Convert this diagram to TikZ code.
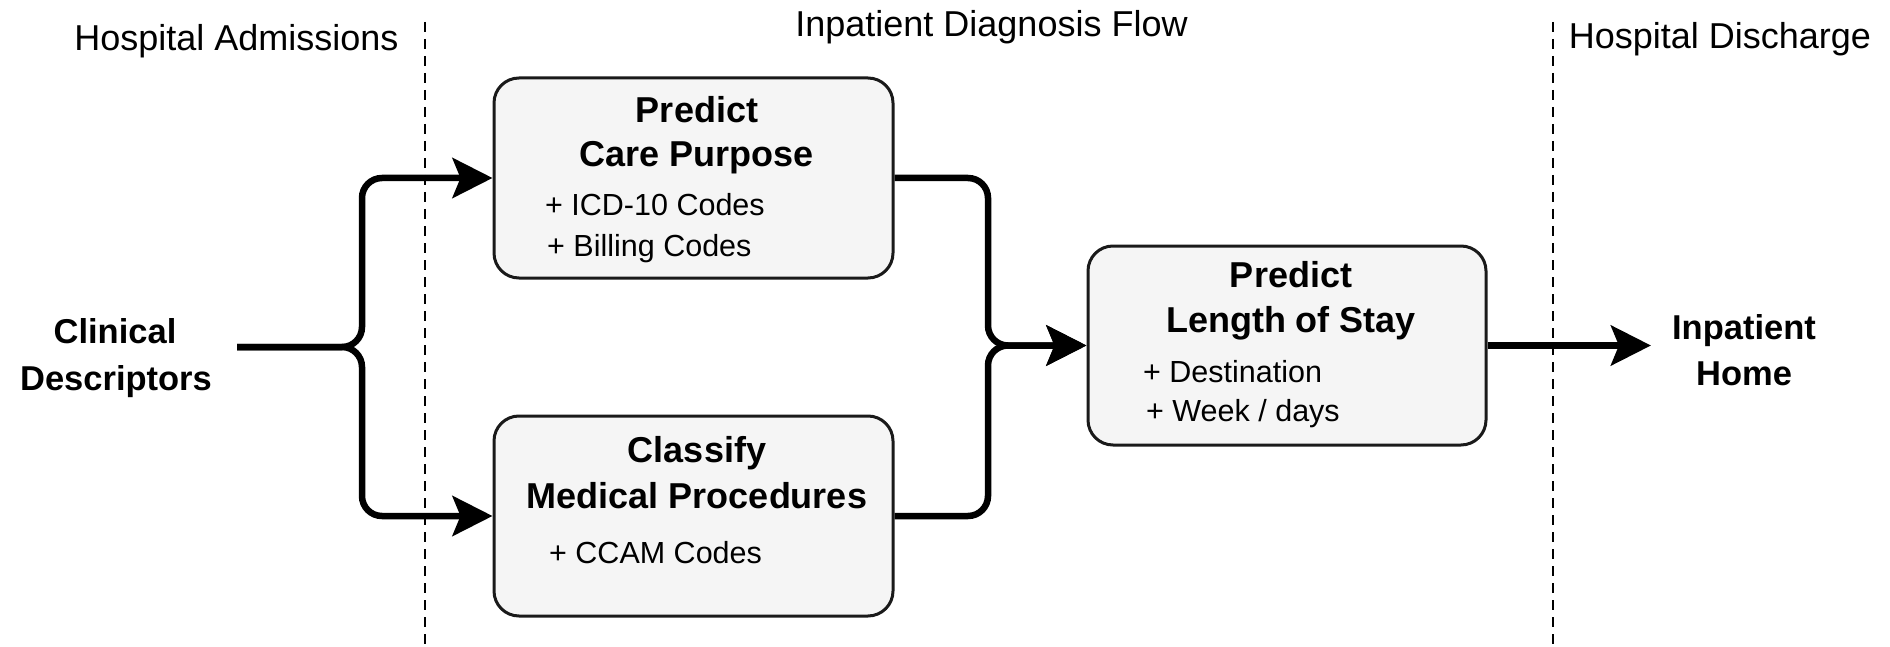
\documentclass[tikz,border=0pt]{standalone}
\usepackage{fontspec}
\setmainfont{Liberation Sans}
\usetikzlibrary{arrows.meta}
\definecolor{boxfill}{HTML}{F5F5F5}
\definecolor{boxline}{HTML}{1A1A1A}
\begin{document}
\begin{tikzpicture}[x=1pt,y=-1pt,
  stagebox/.style={draw=boxline, line width=3pt, fill=boxfill, rounded corners=25pt, minimum width=399pt, minimum height=200pt, inner sep=0pt},
  hdr/.style={font=\fontsize{36}{43}\selectfont, anchor=base, inner sep=0pt},
  ttl/.style={font=\fontsize{36}{43}\selectfont\bfseries, anchor=base, inner sep=0pt},
  itm/.style={font=\fontsize{30.5}{36}\selectfont, anchor=base west, inner sep=0pt},
  side/.style={font=\fontsize{34.5}{41}\selectfont\bfseries, anchor=base, inner ysep=0pt, inner xsep=0pt},
  conn/.style={line width=6.5pt, rounded corners=20pt, -{Stealth[length=40pt,width=40pt,inset=8pt]}},
  sepline/.style={line width=2.5pt, dash pattern=on 10pt off 7pt}]
\useasboundingbox (0,0) rectangle (1890,647);

% stage separators
\draw[sepline] (425,22) -- (425,647);
\draw[sepline] (1553,22) -- (1553,647);

% stage headers
\node[hdr] (hadm) at (236.5,51) {Hospital Admissions};
\node[hdr] (hflow) at (991.5,37) {Inpatient Diagnosis Flow};
\node[hdr] (hdis) at (1720,49) {Hospital Discharge};

% boxes
\node[stagebox] (b1) at (693.5,178) {};
\node[stagebox] (b2) at (693.5,516) {};
\node[stagebox, minimum width=398pt, minimum height=199pt] (b3) at (1287,345.5) {};

% box texts
\node[ttl] (b1t1) at (697,123) {Predict};
\node[ttl] (b1t2) at (697,167) {Care Purpose};
\node[itm] (b1i1) at (545,215) {+ ICD-10 Codes};
\node[itm] (b1i2) at (547,256) {+ Billing Codes};

\node[ttl] (b2t1) at (697,462) {Classify};
\node[ttl] (b2t2) at (697,508) {Medical Procedures};
\node[itm] (b2i1) at (549,563) {+ CCAM Codes};

\node[ttl] (b3t1) at (1291,287) {Predict};
\node[ttl] (b3t2) at (1291,332) {Length of Stay};
\node[itm] (b3i1) at (1143,382) {+ Destination};
\node[itm] (b3i2) at (1146,421) {+ Week / days};

% side labels
\node[side] (cd1) at (115,343) {Clinical};
\node[side] (cd2) at (116,390) {Descriptors};
\node[side, inner xsep=21pt] (ih1) at (1744,339) {Inpatient};
\node[side] (ih2) at (1744,385) {Home};

% connectors
\coordinate (cdout) at (237,347);
\coordinate (j1) at (362,347);
\coordinate (j2) at (988,345.5);
\draw[conn] (cdout) -- (j1) |- (b1.west);
\draw[conn] (cdout) -- (j1) |- (b2.west);
\draw[conn] (b1.east) -| (j2) -- (b3.west);
\draw[conn] (b2.east) -| (j2) -- (b3.west);
\draw[conn] (b3.east) -- (b3.east -| ih1.west);
\end{tikzpicture}
\end{document}
